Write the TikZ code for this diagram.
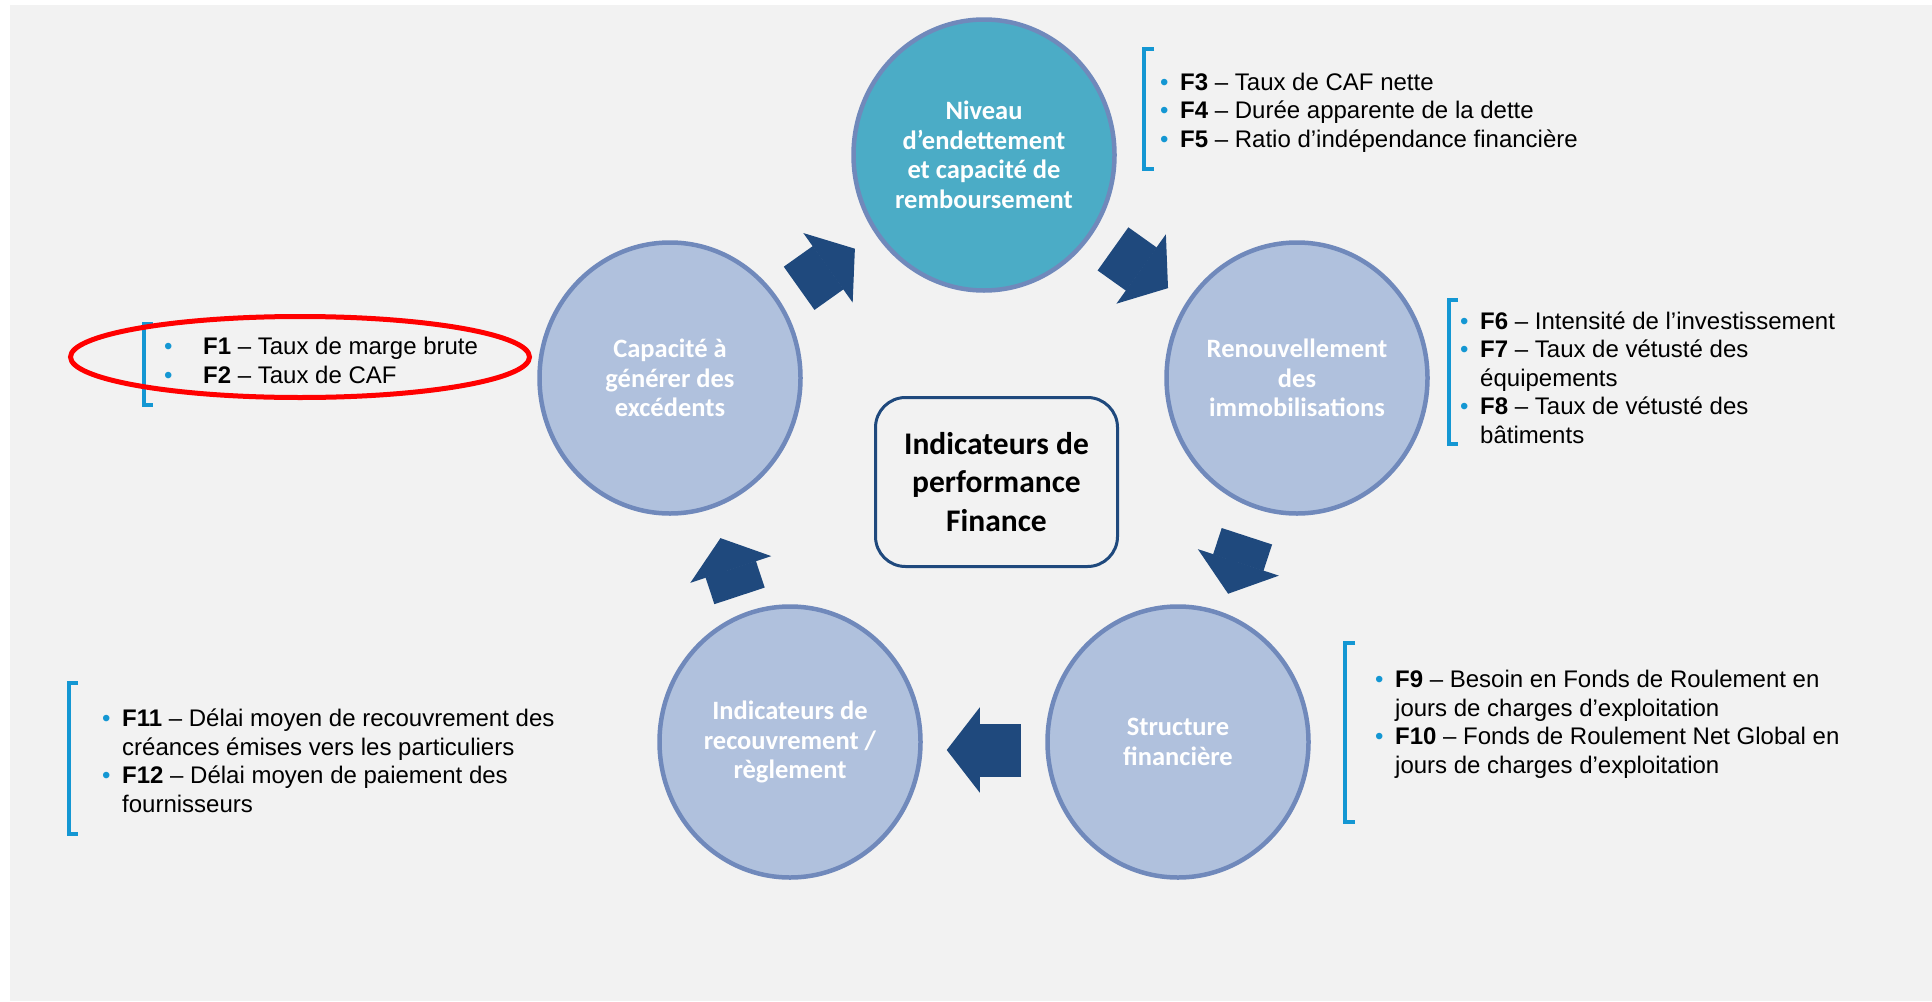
\documentclass[tikz,border=0pt]{standalone}
\usepackage{fontspec}
\setmainfont{Liberation Sans}
\newfontfamily\calibri{Carlito}
\usetikzlibrary{arrows.meta}
\usetikzlibrary{positioning}
\usetikzlibrary{shapes.geometric}
\definecolor{fond}{HTML}{F2F2F2}
\definecolor{contour}{HTML}{7089BB}
\definecolor{rondclair}{HTML}{B0C1DD}
\definecolor{rondvif}{HTML}{4BACC6}
\definecolor{bleufonce}{HTML}{1F497D}
\definecolor{puce}{HTML}{1497D3}
\newcommand{\indic}[2][20pt]{\makebox[#1][l]{\textcolor{puce}{\textbullet}}\textbf{#2}}

\tikzset{
  rond/.style={ellipse, draw=contour, line width=4.5pt, fill=rondclair,
    minimum width=261pt, minimum height=271pt, inner sep=0pt,
    text=white, align=center, font=\calibri\bfseries\fontsize{26.5}{29.5}\selectfont},
  fleche/.style={draw=bleufonce, line width=53pt, shorten <=24pt, shorten >=24pt,
    -{Triangle[length=33pt, width=85pt, line width=1.5pt, line join=miter]}},
  liste/.style={anchor=base west, inner sep=0pt, align=left,
    font=\fontsize{24}{28.5}\selectfont},
  crochet/.style={draw=puce, line width=4pt}
}

\begin{document}
\begin{tikzpicture}[x=1pt, y=-1pt]

  % ---------- Background ----------
  \fill[white] (0,0) rectangle (1932,1001);
  \fill[fond] (10,5) rectangle (1932,1001);

  % ---------- Cycle ----------

  % Circles
  \node[rond, fill=rondvif] (niveau) at (984,155) {Niveau\\d’endettement\\et capacité de\\remboursement};
  \node[rond] (renouv) at (1297,378) {Renouvellement\\des\\immobilisations};
  \node[rond] (structure) at (1178,742) {Structure\\financière};
  \node[rond] (recouv) at (790,742) {Indicateurs de\\recouvrement /\\règlement};
  \node[rond] (capacite) at (670,378) {Capacité à\\générer des\\excédents};

  % Center
  \node[draw=bleufonce, line width=3pt, rounded corners=30pt, fill=fond,
    minimum width=242pt, minimum height=169pt, align=center,
    font=\calibri\bfseries\fontsize{31.5}{38.5}\selectfont] (centre) at (996.5,482)
    {Indicateurs de\\performance\\Finance};

  % Arrows
  \draw[fleche, transform canvas={yshift=-2pt}] (capacite) -- (niveau);
  \draw[fleche, transform canvas={yshift=-2pt}] (niveau) -- (renouv);
  \draw[fleche, transform canvas={yshift=-5pt}] (renouv) -- (structure);
  \draw[fleche, transform canvas={yshift=-8pt}] (structure) -- (recouv);
  \draw[fleche, transform canvas={yshift=-7pt}] (recouv) -- (capacite);

  % ---------- Indicators ----------

  % Lists (anchored on the baseline of their last line)
  \node[liste] (listeF3) at (1160,147) {\indic{F3} – Taux de CAF nette\\\indic{F4} – Durée apparente de la dette\\\indic{F5} – Ratio d’indépendance financière};
  \node[liste] (listeF6) at (1460,443) {\indic{F6} – Intensité de l’investissement\\\indic{F7} – Taux de vétusté des\\\hspace*{20pt}équipements\\\indic{F8} – Taux de vétusté des\\\hspace*{20pt}bâtiments};
  \node[liste] (listeF9) at (1375,773) {\indic{F9} – Besoin en Fonds de Roulement en\\\hspace*{20pt}jours de charges d’exploitation\\\indic{F10} – Fonds de Roulement Net Global en\\\hspace*{20pt}jours de charges d’exploitation};
  \node[liste] (listeF11) at (102,812) {\indic{F11} – Délai moyen de recouvrement des\\\hspace*{20pt}créances émises vers les particuliers\\\indic{F12} – Délai moyen de paiement des\\\hspace*{20pt}fournisseurs};
  \node[liste] (listeF1) at (164,383) {\indic[39pt]{F1} – Taux de marge brute\\\indic[39pt]{F2} – Taux de CAF};

  % Brackets
  \draw[crochet] (1154,49) -- (1144,49) -- (1144,169) -- (1154,169);
  \draw[crochet] (1458,300) -- (1449,300) -- (1449,444) -- (1458,444);
  \draw[crochet] (1355,643) -- (1345,643) -- (1345,822) -- (1355,822);
  \draw[crochet] (78,683) -- (69,683) -- (69,834) -- (78,834);
  \draw[crochet] (153,324) -- (144,324) -- (144,405) -- (153,405);

  % Highlight
  \node[ellipse, draw=red, line width=5pt, minimum width=459pt, minimum height=81pt,
    inner sep=0pt] (entoureF1) at (300,357) {};
\end{tikzpicture}
\end{document}
